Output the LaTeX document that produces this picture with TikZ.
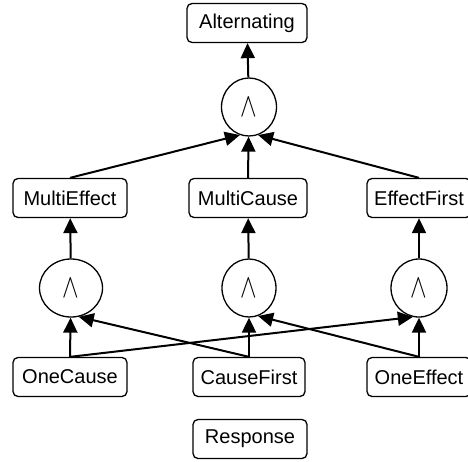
\documentclass[tikz,border=0pt]{standalone}
\usepackage{fontspec}
\usepackage{graphicx}
\setmainfont{Liberation Sans}
\usetikzlibrary{arrows.meta,shapes.geometric}
\newcommand{\andsym}{\scalebox{1}[1.35]{\fontsize{23}{23}\selectfont$\wedge$}}
\begin{document}
\begin{tikzpicture}[x=1pt,y=-1pt,
  box/.style={draw,line width=1.3pt,rounded corners=5pt,minimum height=39pt,inner xsep=4pt,font=\fontsize{20}{23}\selectfont},
  andnode/.style={draw,line width=1.3pt,ellipse,minimum height=58pt,inner sep=0pt},
  arr/.style={line width=2pt,-{Triangle[length=15pt,width=14pt]}}]
\useasboundingbox (0,0) rectangle (468,461);
\node[box,minimum width=120pt] (alt) at (247,23) {Alternating};
\node[andnode,minimum width=55pt] (top) at (249,107) {\andsym};
\node[box,minimum width=114pt] (me) at (70,198) {MultiEffect};
\node[box,minimum width=118pt] (mc) at (248,198) {MultiCause};
\node[box,minimum width=104pt] (ef) at (419,198) {EffectFirst};
\node[andnode,minimum width=63pt] (a1) at (71,288) {\andsym};
\node[andnode,minimum width=54pt] (a2) at (249,288) {\andsym};
\node[andnode,minimum width=56pt] (a3) at (419,288) {\andsym};
\node[box,minimum width=114pt] (oc) at (70,377) {OneCause};
\node[box,minimum width=112pt] (cf) at (249,377) {CauseFirst};
\node[box,minimum width=104pt] (oe) at (419,377) {OneEffect};
\node[box,minimum width=114pt] (resp) at (250,439) {Response};
\draw[arr] (top) -- (alt);
\draw[arr] (me.north) -- (top.-108);
\draw[arr] (mc.north) -- (top);
\draw[arr] (ef.north) -- (top.-72);
\draw[arr] (a1) -- (me);
\draw[arr] (a2) -- (mc);
\draw[arr] (a3) -- (ef);
\draw[arr] (oc.north) -- (a1);
\draw[arr] (oc.north) -- (a3.-102);
\draw[arr] (cf.north) -- (a1.-75);
\draw[arr] (cf.north) -- (a2);
\draw[arr] (oe.north) -- (a2.-72);
\draw[arr] (oe.north) -- (a3);
\end{tikzpicture}
\end{document}
